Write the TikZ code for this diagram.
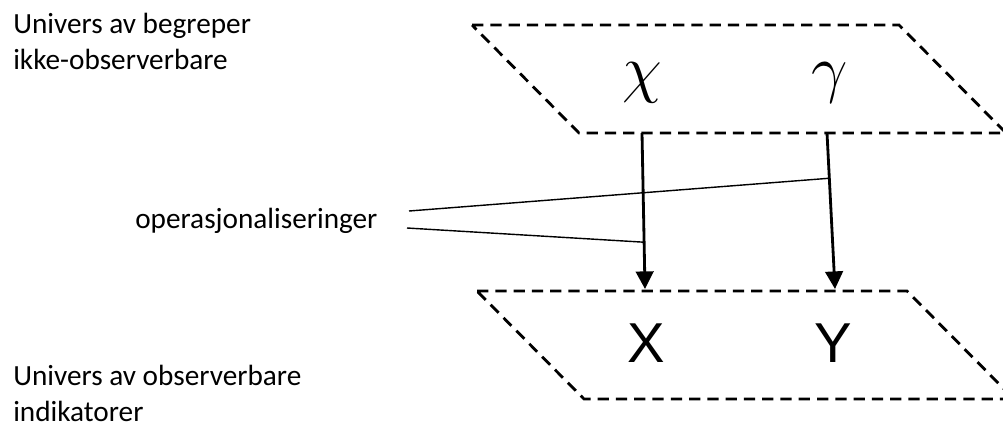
\documentclass[tikz,border=0pt]{standalone}
\usepackage{fix-cm}
\usepackage{fontspec}
\setmainfont{Carlito}
\newfontfamily\latinfont{Liberation Sans}
\usetikzlibrary{arrows.meta,calc}
\tikzset{
  >={Triangle[length=4.4mm,width=4.4mm]},
  plane/.style={draw,line width=2pt,dash pattern=on 8pt off 5pt},
  link/.style={->,line width=2pt},
  tie/.style={line width=1pt},
  concept/.style={font=\fontsize{46}{46}\selectfont,inner sep=0pt},
  indicator/.style={font=\latinfont\fontsize{40}{40}\selectfont,inner sep=0pt},
  tag/.style={font=\fontsize{20.8}{25.5}\selectfont,align=left,inner sep=0pt},
}
\begin{document}
\begin{tikzpicture}[x=0.025cm,y=-0.025cm]
  \useasboundingbox (0,0) rectangle (1003,430);
  % planes
  \draw[plane] (472,25) -- (899,25) -- (1006,133) -- (579,133) -- cycle;
  \draw[plane] (477,291) -- (907,291) -- (1014,399) -- (584,399) -- cycle;
  % symbols
  \node[concept] (chi) at (642,83) {$\chi$};
  \node[concept] (gam) at (830,83) {$\gamma$};
  \node[indicator] (X) at (646,343) {X};
  \node[indicator] (Y) at (833,343) {Y};
  % labels
  \node[tag,anchor=north west] (top) at (13,13) {Univers av begreper\\ikke-observerbare};
  \node[tag,anchor=north west] (bot) at (13,365) {Univers av observerbare\\indikatorer};
  \node[tag,anchor=base west] (ops) at (135,228) {operasjonaliseringer};
  % arrows between the planes
  \coordinate (chi top) at (642,133);
  \coordinate (chi end) at (645,289);
  \coordinate (gam top) at (827,133);
  \coordinate (gam end) at (835,289);
  \draw[link] (chi top) -- (chi end);
  \draw[link] (gam top) -- (gam end);
  % ties from the label
  \coordinate (o1) at (409,211);
  \coordinate (o2) at (407,228);
  \coordinate (g1) at ($(gam top)!0.29!(gam end)$);
  \coordinate (c2) at ($(chi top)!0.70!(chi end)$);
  \draw[tie] (o1) -- (g1);
  \draw[tie] (o2) -- (c2);
\end{tikzpicture}
\end{document}
